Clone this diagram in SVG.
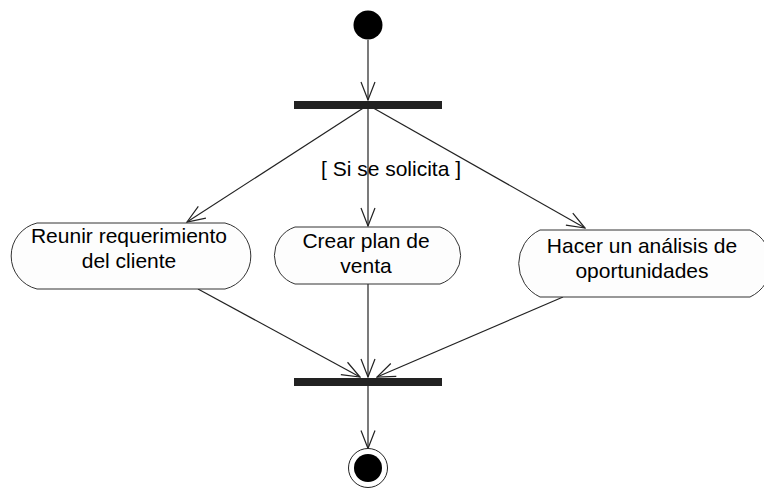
<svg xmlns="http://www.w3.org/2000/svg" width="764" height="489" viewBox="0 0 764 489">
<style>
.edge{fill:none;stroke:#222;stroke-width:1.2}
.act{fill:#fdfdfd;stroke:#333;stroke-width:1}
.bar{fill:#222}
text{font-family:"Liberation Sans",Arial,sans-serif;font-size:21px;fill:#000;text-anchor:middle}
</style>
<defs>
<marker id="arr" markerUnits="userSpaceOnUse" markerWidth="20" markerHeight="16" refX="19" refY="8" orient="auto" viewBox="0 0 20 16">
<path d="M1,1 L19,8 L1,15" fill="none" stroke="#222" stroke-width="1.2"/>
</marker>
</defs>
<rect width="764" height="489" fill="#fff"/>
<g id="connectors">
<line class="edge" x1="368" y1="40" x2="368" y2="100" marker-end="url(#arr)"/>
<line class="edge" x1="368" y1="105" x2="187" y2="222" marker-end="url(#arr)"/>
<line class="edge" x1="368" y1="108" x2="368" y2="226" marker-end="url(#arr)"/>
<line class="edge" x1="368" y1="105" x2="585" y2="228" marker-end="url(#arr)"/>
<line class="edge" x1="198" y1="289" x2="360" y2="377" marker-end="url(#arr)"/>
<line class="edge" x1="368" y1="284" x2="368" y2="377" marker-end="url(#arr)"/>
<line class="edge" x1="563" y1="297" x2="377" y2="377" marker-end="url(#arr)"/>
<line class="edge" x1="368" y1="386" x2="368" y2="448.5" marker-end="url(#arr)"/>
<text x="391" y="176">[ Si se solicita ]</text>
</g>
<g id="start"><circle cx="368" cy="25" r="14.5" fill="#000"/></g>
<g id="fork"><rect class="bar" x="294" y="101" width="148" height="8"/></g>
<g id="n1">
<path class="act" d="M37,223 L225,223 A34,34 0 0 1 225,289 L37,289 A34,34 0 0 1 37,223 Z"/>
<text x="129" y="243">Reunir requerimiento</text>
<text x="129" y="268">del cliente</text>
</g>
<g id="n2">
<path class="act" d="M295,227 L440,227 A30,30 0 0 1 440,284 L295,284 A30,30 0 0 1 295,227 Z"/>
<text x="366" y="248">Crear plan de</text>
<text x="366" y="273">venta</text>
</g>
<g id="n3">
<path class="act" d="M540,230 L750,230 A37,37 0 0 1 750,297 L540,297 A37,37 0 0 1 540,230 Z"/>
<text x="642" y="253">Hacer un análisis de</text>
<text x="642" y="278">oportunidades</text>
</g>
<g id="join"><rect class="bar" x="294" y="378" width="148" height="8"/></g>
<g id="end">
<circle cx="368" cy="468" r="19.5" fill="#fff" stroke="#222" stroke-width="1"/>
<circle cx="368" cy="468" r="14" fill="#000"/>
</g>
</svg>
